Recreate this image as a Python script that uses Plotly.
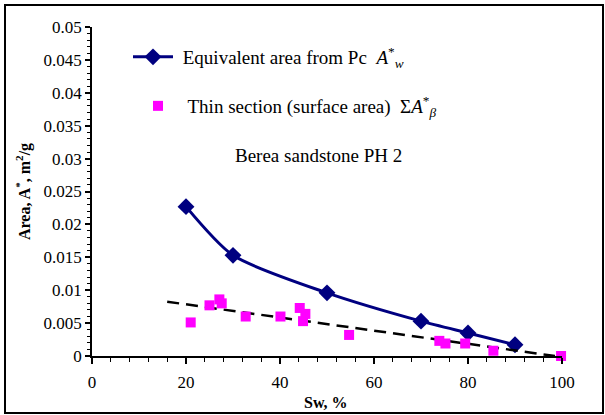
import plotly.graph_objects as go

# ---- data ----
sw_pc = [20, 30, 50, 70, 80, 90]
area_pc = [0.0227, 0.0153, 0.0096, 0.0053, 0.0035, 0.0017]

sw_thin = [21, 25, 27.1, 27.6, 32.7, 40.1, 44.2, 45.4, 44.9, 54.7, 73.9, 75.2, 79.4, 85.4, 99.8]
area_thin = [0.0051, 0.0077, 0.0086, 0.0080, 0.0060, 0.0060, 0.0073, 0.0064, 0.0053, 0.0032,
             0.0023, 0.0019, 0.0019, 0.0008, 0.0000]

trend_x = [16, 98.5]
trend_y = [0.00825, 0.0]

x_tickvals = [0, 20, 40, 60, 80, 100]
x_ticktext = ["0", "20", "40", "60", "80", "100"]
y_tickvals = [0, 0.005, 0.01, 0.015, 0.02, 0.025, 0.03, 0.035, 0.04, 0.045, 0.05]
y_ticktext = ["0", "0.005", "0.01", "0.015", "0.02", "0.025", "0.03", "0.035", "0.04", "0.045", "0.05"]

FONT = "Liberation Serif, Times New Roman, serif"
NAVY = "#000080"
PINK = "#FF00FF"

# plot area in pixels (for positioning helpers)
W, H = 605, 415
L, R, T, B = 92, 43, 27, 59
PW, PH = W - L - R, H - T - B


def px(xp):
    return (xp - L) / PW


def py(yp):
    return (H - B - yp) / PH


fig = go.Figure()

fig.add_trace(go.Scatter(
    x=sw_pc, y=area_pc, mode="lines+markers",
    line=dict(color=NAVY, width=3, shape="spline", smoothing=0.7),
    marker=dict(symbol="diamond", size=13, color=NAVY),
    name="\u00a0Equivalent area from Pc\u00a0\u00a0<i>A</i><sup>*</sup><sub><i>w</i></sub>",
    legend="legend", cliponaxis=False,
))

fig.add_trace(go.Scatter(
    x=trend_x, y=trend_y, mode="lines",
    line=dict(color="black", width=2.5, dash="12px,7px"),
    showlegend=False,
))

fig.add_trace(go.Scatter(
    x=sw_thin, y=area_thin, mode="markers",
    marker=dict(symbol="square", size=10, color=PINK),
    name="\u00a0\u00a0Thin section (surface area)\u00a0\u00a0Σ<i>A</i><sup>*</sup><sub><i>β</i></sub>",
    legend="legend2", cliponaxis=False,
))

fig.add_annotation(
    x=px(318), y=py(155), xref="paper", yref="paper",
    xanchor="center", yanchor="middle",
    text="Berea sandstone PH 2", showarrow=False,
    font=dict(family=FONT, size=19, color="black"),
)

# axis titles as annotations (fixed positions)
fig.add_annotation(
    x=px(326), y=py(402), xref="paper", yref="paper",
    xanchor="center", yanchor="middle",
    text="<b>Sw, %</b>", showarrow=False,
    font=dict(family=FONT, size=16, color="black"),
)
fig.add_annotation(
    x=px(23), y=py(192), xref="paper", yref="paper",
    xanchor="center", yanchor="middle",
    text="<b>Area, A<sup>*</sup>, m<sup>2</sup>/g</b>", showarrow=False, textangle=-90,
    font=dict(family=FONT, size=16, color="black"),
)

# outer frame
fig.add_shape(type="rect", xref="paper", yref="paper",
              x0=px(5), x1=px(603), y0=py(413), y1=py(5),
              line=dict(color="black", width=2), layer="below")

fig.update_layout(
    width=W, height=H,
    margin=dict(l=L, r=R, t=T, b=B, pad=0),
    paper_bgcolor="white", plot_bgcolor="white",
    font=dict(family=FONT, size=17, color="black"),
    legend=dict(x=px(128), y=py(57), xanchor="left", yanchor="middle",
                bgcolor="rgba(0,0,0,0)", font=dict(family=FONT, size=19),
                itemwidth=40),
    legend2=dict(x=px(138), y=py(106), xanchor="left", yanchor="middle",
                 bgcolor="rgba(0,0,0,0)", font=dict(family=FONT, size=19),
                 itemwidth=30),
    xaxis=dict(
        range=[0, 100], tickvals=x_tickvals, ticktext=x_ticktext, automargin=False,
        showgrid=False, zeroline=False, showline=True, linecolor="black", linewidth=1.5,
        ticks="outside", ticklen=6, tickwidth=1.5, tickcolor="black",
        minor=dict(dtick=4, ticks="outside", ticklen=4, tickwidth=1.2, tickcolor="black", showgrid=False),
        tickfont=dict(family=FONT, size=17), ticklabelstandoff=4,
    ),
    yaxis=dict(
        range=[0, 0.05], tickvals=y_tickvals, ticktext=y_ticktext, automargin=False,
        showgrid=False, zeroline=False, showline=True, linecolor="black", linewidth=1.5,
        ticks="outside", ticklen=5, tickwidth=1.5, tickcolor="black",
        minor=dict(dtick=0.001, ticks="outside", ticklen=3, tickwidth=1, tickcolor="black", showgrid=False),
        tickfont=dict(family=FONT, size=17),
    ),
)

fig.write_html("out.html")
